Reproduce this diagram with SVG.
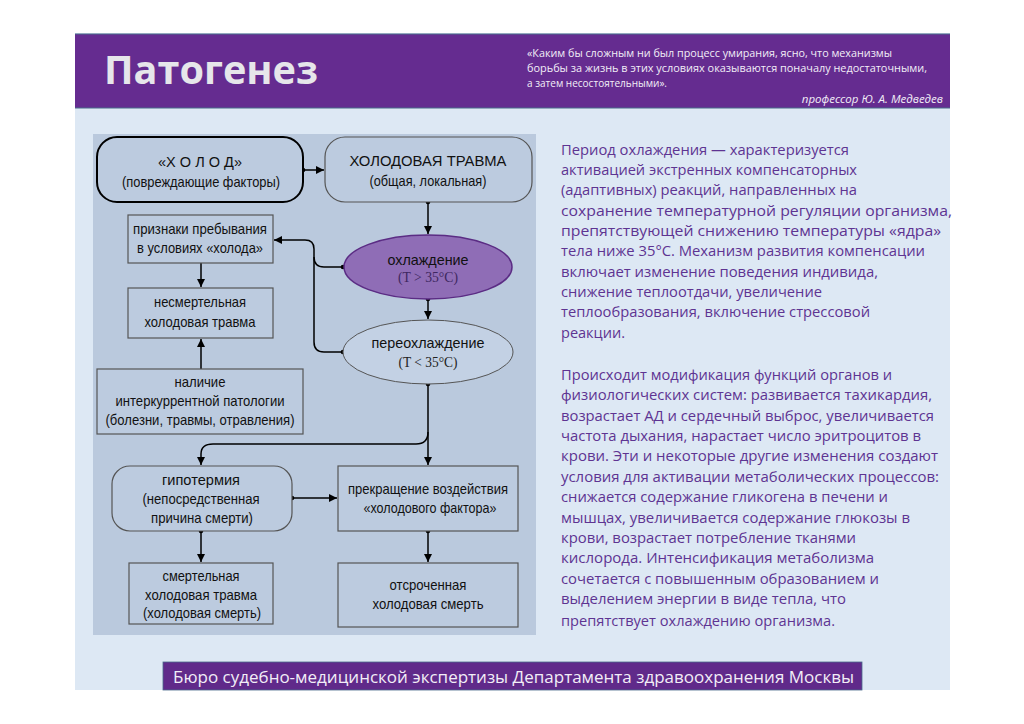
<svg xmlns="http://www.w3.org/2000/svg" width="1024" height="724" viewBox="0 0 1024 724">
<defs>
<marker id="arr" viewBox="0 0 10 10" refX="10" refY="5" markerWidth="8" markerHeight="8" markerUnits="userSpaceOnUse" orient="auto">
<path d="M0,0 L10,5 L0,10 z" fill="#000"/>
</marker>
<style>
.node{fill:#bccbdf;stroke:#555;stroke-width:1.2}
.thick{fill:#bccbdf;stroke:#000;stroke-width:2}
.nt{font-family:"Liberation Sans",Arial,sans-serif;font-size:14.5px;fill:#111;text-anchor:middle}
.ser{font-family:"Liberation Serif","Times New Roman",serif;font-size:14.5px;text-anchor:middle}
.con{fill:none;stroke:#000;stroke-width:1.5}
.dot{fill:#000}
.body{font-family:"Open Sans","Noto Sans",sans-serif;font-size:15px;fill:#5e3492}
.quote{font-family:"Open Sans","Noto Sans",sans-serif;font-size:11.5px;fill:#f2eef7}
</style>
</defs>
<rect x="0" y="0" width="1024" height="724" fill="#ffffff"/>
<rect x="75" y="33" width="875" height="657" fill="#dde8f4"/>
<rect x="75" y="34" width="875" height="74" fill="#652c90"/>
<line x1="75" y1="34" x2="950" y2="34" stroke="#4a6a8a" stroke-width="1.2"/>
<line x1="75" y1="108" x2="950" y2="108" stroke="#4a6a8a" stroke-width="1.2"/>
<text x="104" y="84" font-family="'Open Sans','Noto Sans',sans-serif" font-weight="bold" font-size="39" fill="#e6e6ea" textLength="214" lengthAdjust="spacingAndGlyphs">Патогенез</text>
<text class="quote" x="527" y="57" textLength="365" lengthAdjust="spacingAndGlyphs">«Каким бы сложным ни был процесс умирания, ясно, что механизмы</text>
<text class="quote" x="527" y="72" textLength="400" lengthAdjust="spacingAndGlyphs">борьбы за жизнь в этих условиях оказываются поначалу недостаточными,</text>
<text class="quote" x="527" y="87" textLength="140" lengthAdjust="spacingAndGlyphs">а затем несостоятельными».</text>
<text class="quote" x="943" y="103" text-anchor="end" font-style="italic" font-size="12.5">профессор Ю. А. Медведев</text>

<rect x="93" y="134" width="443" height="501" fill="#bac9dd"/>

<g id="connectors">
<path class="con" d="M303,170 H324" marker-end="url(#arr)"/>
<circle class="dot" cx="303" cy="170" r="2.3"/>
<path class="con" d="M428,202 V234" marker-end="url(#arr)"/>
<circle class="dot" cx="428" cy="202" r="2.3"/>
<path class="con" d="M428,299 V319" marker-end="url(#arr)"/>
<circle class="dot" cx="428" cy="299" r="2.3"/>
<path class="con" d="M343,352 H324 Q314,352 314,342 V249 Q314,240 305,240 H274" marker-end="url(#arr)"/>
<path class="con" d="M343,267 H324 Q314,267 314,257"/>
<circle class="dot" cx="343" cy="267" r="2.3"/>
<circle class="dot" cx="343" cy="352" r="2.3"/>
<path class="con" d="M201,263 V287" marker-end="url(#arr)"/>
<path class="con" d="M201,369 V339" marker-end="url(#arr)"/>
<path class="con" d="M428,384 V465" marker-end="url(#arr)"/>
<circle class="dot" cx="428" cy="384" r="2.3"/>
<path class="con" d="M428,432 Q428,444 416,444 H213 Q201,444 201,454 V465" marker-end="url(#arr)"/>
<path class="con" d="M292,498 H337" marker-end="url(#arr)"/>
<circle class="dot" cx="292" cy="498" r="2.3"/>
<path class="con" d="M201,531 V562" marker-end="url(#arr)"/>
<circle class="dot" cx="201" cy="531" r="2.3"/>
<path class="con" d="M428,531 V562" marker-end="url(#arr)"/>
<circle class="dot" cx="428" cy="531" r="2.3"/>
</g>

<g id="node-holod">
<rect class="thick" x="97" y="137" width="206" height="65" rx="20"/>
<text class="nt" x="200" y="167" font-size="16.5" textLength="84" lengthAdjust="spacingAndGlyphs">«Х О Л О Д»</text>
<text class="nt" x="201" y="187" textLength="158" lengthAdjust="spacingAndGlyphs">(повреждающие факторы)</text>
</g>
<g id="node-trauma">
<rect class="node" x="325" y="137" width="207" height="65" rx="20"/>
<text class="nt" x="428" y="166" font-size="16" textLength="157" lengthAdjust="spacingAndGlyphs">ХОЛОДОВАЯ ТРАВМА</text>
<text class="nt" x="428" y="186" textLength="117" lengthAdjust="spacingAndGlyphs">(общая, локальная)</text>
</g>
<g id="node-ohlazhdenie">
<ellipse cx="428" cy="267" rx="84" ry="32" fill="#8f6db6" stroke="#5b2c84" stroke-width="1.5"/>
<text class="nt" x="428" y="265" font-size="16" fill="#3e2760" textLength="81" lengthAdjust="spacingAndGlyphs">охлаждение</text>
<text class="ser" x="428" y="282" fill="#3e2760" textLength="60" lengthAdjust="spacingAndGlyphs">(T &gt; 35°C)</text>
</g>
<g id="node-pereohlazhdenie">
<ellipse cx="428" cy="352" rx="85" ry="32" fill="#c3d1e4" stroke="#555" stroke-width="1"/>
<text class="nt" x="428" y="348" font-size="16" textLength="113" lengthAdjust="spacingAndGlyphs">переохлаждение</text>
<text class="ser" x="428" y="367" fill="#222" textLength="59" lengthAdjust="spacingAndGlyphs">(T &lt; 35°C)</text>
</g>
<g id="node-priznaki">
<rect class="node" x="128" y="215" width="145" height="48"/>
<text class="nt" x="200" y="234" textLength="134" lengthAdjust="spacingAndGlyphs">признаки пребывания</text>
<text class="nt" x="200" y="253" textLength="126" lengthAdjust="spacingAndGlyphs">в условиях «холода»</text>
</g>
<g id="node-nesmert">
<rect class="node" x="128" y="288" width="145" height="50"/>
<text class="nt" x="200" y="307" textLength="92" lengthAdjust="spacingAndGlyphs">несмертельная</text>
<text class="nt" x="200" y="327" textLength="111" lengthAdjust="spacingAndGlyphs">холодовая травма</text>
</g>
<g id="node-nalichie">
<rect class="node" x="97" y="369" width="206" height="65"/>
<text class="nt" x="200" y="387" textLength="51" lengthAdjust="spacingAndGlyphs">наличие</text>
<text class="nt" x="200" y="406" textLength="169" lengthAdjust="spacingAndGlyphs">интеркуррентной патологии</text>
<text class="nt" x="200" y="425" textLength="189" lengthAdjust="spacingAndGlyphs">(болезни, травмы, отравления)</text>
</g>
<g id="node-gipotermia">
<rect class="node" x="112" y="466" width="180" height="65" rx="18"/>
<text class="nt" x="201" y="485" textLength="78" lengthAdjust="spacingAndGlyphs">гипотермия</text>
<text class="nt" x="201" y="504" textLength="117" lengthAdjust="spacingAndGlyphs">(непосредственная</text>
<text class="nt" x="202" y="523" textLength="102" lengthAdjust="spacingAndGlyphs">причина смерти)</text>
</g>
<g id="node-prekrashenie">
<rect class="node" x="338" y="466" width="180" height="65"/>
<text class="nt" x="428" y="494" textLength="160" lengthAdjust="spacingAndGlyphs">прекращение воздействия</text>
<text class="nt" x="430" y="513" textLength="133" lengthAdjust="spacingAndGlyphs">«холодового фактора»</text>
</g>
<g id="node-smert">
<rect class="node" x="129" y="563" width="144" height="61"/>
<text class="nt" x="201" y="581" textLength="77" lengthAdjust="spacingAndGlyphs">смертельная</text>
<text class="nt" x="201" y="600" textLength="112" lengthAdjust="spacingAndGlyphs">холодовая травма</text>
<text class="nt" x="202" y="618" textLength="118" lengthAdjust="spacingAndGlyphs">(холодовая смерть)</text>
</g>
<g id="node-otsroch">
<rect class="node" x="338" y="563" width="180" height="64"/>
<text class="nt" x="428" y="590" textLength="77" lengthAdjust="spacingAndGlyphs">отсроченная</text>
<text class="nt" x="428" y="609" textLength="111" lengthAdjust="spacingAndGlyphs">холодовая смерть</text>
</g>

<g id="text-right">
<text class="body" x="561" y="155" textLength="288" lengthAdjust="spacingAndGlyphs">Период охлаждения — характеризуется</text>
<text class="body" x="561" y="175" textLength="296" lengthAdjust="spacingAndGlyphs">активацией экстренных компенсаторных</text>
<text class="body" x="561" y="195" textLength="296" lengthAdjust="spacingAndGlyphs">(адаптивных) реакций, направленных на</text>
<text class="body" x="561" y="216" textLength="391" lengthAdjust="spacingAndGlyphs">сохранение температурной регуляции организма,</text>
<text class="body" x="561" y="236" textLength="380" lengthAdjust="spacingAndGlyphs">препятствующей снижению температуры «ядра»</text>
<text class="body" x="561" y="256" textLength="364" lengthAdjust="spacingAndGlyphs">тела ниже 35°C. Механизм развития компенсации</text>
<text class="body" x="561" y="277" textLength="317" lengthAdjust="spacingAndGlyphs">включает изменение поведения индивида,</text>
<text class="body" x="561" y="297" textLength="261" lengthAdjust="spacingAndGlyphs">снижение теплоотдачи, увеличение</text>
<text class="body" x="561" y="317" textLength="309" lengthAdjust="spacingAndGlyphs">теплообразования, включение стрессовой</text>
<text class="body" x="561" y="338" textLength="64" lengthAdjust="spacingAndGlyphs">реакции.</text>

<text class="body" x="561" y="380" textLength="331" lengthAdjust="spacingAndGlyphs">Происходит модификация функций органов и</text>
<text class="body" x="561" y="400" textLength="371" lengthAdjust="spacingAndGlyphs">физиологических систем: развивается тахикардия,</text>
<text class="body" x="561" y="421" textLength="373" lengthAdjust="spacingAndGlyphs">возрастает АД и сердечный выброс, увеличивается</text>
<text class="body" x="561" y="441" textLength="360" lengthAdjust="spacingAndGlyphs">частота дыхания, нарастает число эритроцитов в</text>
<text class="body" x="561" y="461" textLength="377" lengthAdjust="spacingAndGlyphs">крови. Эти и некоторые другие изменения создают</text>
<text class="body" x="561" y="482" textLength="378" lengthAdjust="spacingAndGlyphs">условия для активации метаболических процессов:</text>
<text class="body" x="561" y="502" textLength="327" lengthAdjust="spacingAndGlyphs">снижается содержание гликогена в печени и</text>
<text class="body" x="561" y="523" textLength="349" lengthAdjust="spacingAndGlyphs">мышцах, увеличивается содержание глюкозы в</text>
<text class="body" x="561" y="543" textLength="295" lengthAdjust="spacingAndGlyphs">крови, возрастает потребление тканями</text>
<text class="body" x="561" y="563" textLength="313" lengthAdjust="spacingAndGlyphs">кислорода. Интенсификация метаболизма</text>
<text class="body" x="561" y="584" textLength="318" lengthAdjust="spacingAndGlyphs">сочетается с повышенным образованием и</text>
<text class="body" x="561" y="604" textLength="285" lengthAdjust="spacingAndGlyphs">выделением энергии в виде тепла, что</text>
<text class="body" x="561" y="626" textLength="274" lengthAdjust="spacingAndGlyphs">препятствует охлаждению организма.</text>
</g>

<rect x="163" y="662" width="699" height="28" fill="#602a8a" stroke="#4a6a8a" stroke-width="0.8"/>
<text x="173" y="683" font-family="'Open Sans','Noto Sans',sans-serif" font-size="16" fill="#f2eef7" textLength="681" lengthAdjust="spacingAndGlyphs">Бюро судебно-медицинской экспертизы Департамента здравоохранения Москвы</text>
</svg>
